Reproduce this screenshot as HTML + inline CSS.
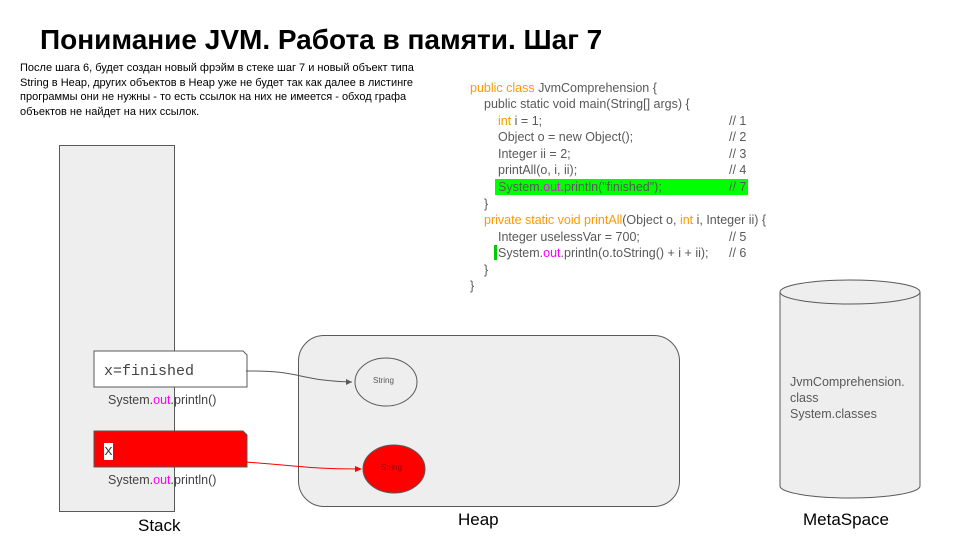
<!DOCTYPE html>
<html><head><meta charset="utf-8"><style>
body{margin:0;width:960px;height:540px;background:#fff;position:relative;overflow:hidden;font-family:"Liberation Sans",sans-serif;color:#434343}
.a{position:absolute;white-space:nowrap}
.c{position:absolute;font-size:12.5px;line-height:16px;color:#595959;white-space:nowrap}
.o{color:#ff9900}.m{color:#ff00ff}
</style></head><body>
<div class="a" style="left:40px;top:24px;font-size:28px;font-weight:bold;color:#000">Понимание JVM. Работа в памяти. Шаг 7</div>
<div class="a" style="left:20px;top:61px;width:425px;white-space:normal;font-size:11px;line-height:14.5px;color:#000">После шага 6, будет создан новый фрэйм в стеке шаг 7 и новый объект типа String в Heap, других объектов в Heap уже не будет так как далее в листинге программы они не нужны - то есть ссылок на них не имеется - обход графа объектов не найдет на них ссылок.</div>

<div class="c" style="left:470px;top:80px"><span class="o">public class</span> JvmComprehension {</div>
<div class="c" style="left:484px;top:96px">public static void main(String[] args) {</div>
<div class="c" style="left:498px;top:113px"><span class="o">int</span> i = 1;</div>
<div class="c" style="left:498px;top:129px">Object o = new Object();</div>
<div class="c" style="left:498px;top:146px">Integer ii = 2;</div>
<div class="c" style="left:498px;top:162px">printAll(o, i, ii);</div>
<div class="a" style="left:495px;top:179px;width:253px;height:16px;background:#00ff00"></div>
<div class="c" style="left:498px;top:179px">System.<span class="m">out</span>.println("finished");</div>
<div class="c" style="left:484px;top:196px">}</div>
<div class="c" style="left:484px;top:212px"><span class="o">private static void printAll</span>(Object o, <span class="o">int</span> i, Integer ii) {</div>
<div class="c" style="left:498px;top:229px">Integer uselessVar = 700;</div>
<div class="a" style="left:494px;top:245px;width:3px;height:15px;background:#00cc00"></div>
<div class="c" style="left:498px;top:245px">System.<span class="m">out</span>.println(o.toString() + i + ii);</div>
<div class="c" style="left:484px;top:262px">}</div>
<div class="c" style="left:470px;top:278px">}</div>
<div class="c" style="left:729px;top:113px">// 1</div>
<div class="c" style="left:729px;top:129px">// 2</div>
<div class="c" style="left:729px;top:146px">// 3</div>
<div class="c" style="left:729px;top:162px">// 4</div>
<div class="c" style="left:729px;top:179px">// 7</div>
<div class="c" style="left:729px;top:229px">// 5</div>
<div class="c" style="left:729px;top:245px">// 6</div>

<div class="a" style="left:59px;top:145px;width:114px;height:365px;background:#eeeeee;border:1px solid #595959"></div>
<div class="a" style="left:298px;top:335px;width:380px;height:170px;background:#eeeeee;border:1px solid #595959;border-radius:26px"></div>

<svg class="a" style="left:0;top:0" width="960" height="540">
<path d="M94 351 H243 L247 355 V387 H94 Z" fill="#fff" stroke="#595959"/>
<path d="M94 431 H243 L247 435 V467 H94 Z" fill="#ff0000" stroke="#595959"/>
<ellipse cx="386" cy="382" rx="31" ry="24" fill="#eee" stroke="#595959"/>
<ellipse cx="394" cy="469" rx="31" ry="24" fill="#ff0000" stroke="#595959"/>
<path d="M246 371 C300 370 300 381 352 382" fill="none" stroke="#595959"/>
<path d="M352 382 l-6 -3 v6z" fill="#595959"/>
<path d="M246 462 C300 466 310 469 359 469" fill="none" stroke="#ff0000"/>
<path d="M362 469 l-7 -3 v6z" fill="#ff0000"/>
<path d="M780 292 A70 12 0 0 1 920 292 V486 A70 12 0 0 1 780 486 Z" fill="#eee" stroke="#595959"/>
<path d="M780 292 A70 12 0 0 0 920 292" fill="none" stroke="#595959"/>
</svg>
<div class="a" style="left:104px;top:363px;font-family:'Liberation Mono',monospace;font-size:15px;background:#fff;color:#434343">x=finished</div>
<div class="a" style="left:104px;top:443px;font-family:'Liberation Mono',monospace;font-size:15px;background:#fff;color:#434343">x</div>
<div class="a" style="left:108px;top:393px;font-size:12.5px">System.<span class="m">out</span>.println()</div>
<div class="a" style="left:108px;top:473px;font-size:12.5px">System.<span class="m">out</span>.println()</div>
<div class="a" style="left:373px;top:376px;font-size:8px;color:#595959">String</div>
<div class="a" style="left:381px;top:463px;font-size:8px;color:#990000">String</div>
<div class="a" style="left:790px;top:374px;font-size:12.5px;line-height:16px;color:#595959">JvmComprehension.<br>class<br>System.classes</div>
<div class="a" style="left:138px;top:516px;font-size:17px;color:#000">Stack</div>
<div class="a" style="left:458px;top:510px;font-size:17px;color:#000">Heap</div>
<div class="a" style="left:803px;top:510px;font-size:17px;color:#000">MetaSpace</div>
</body></html>
